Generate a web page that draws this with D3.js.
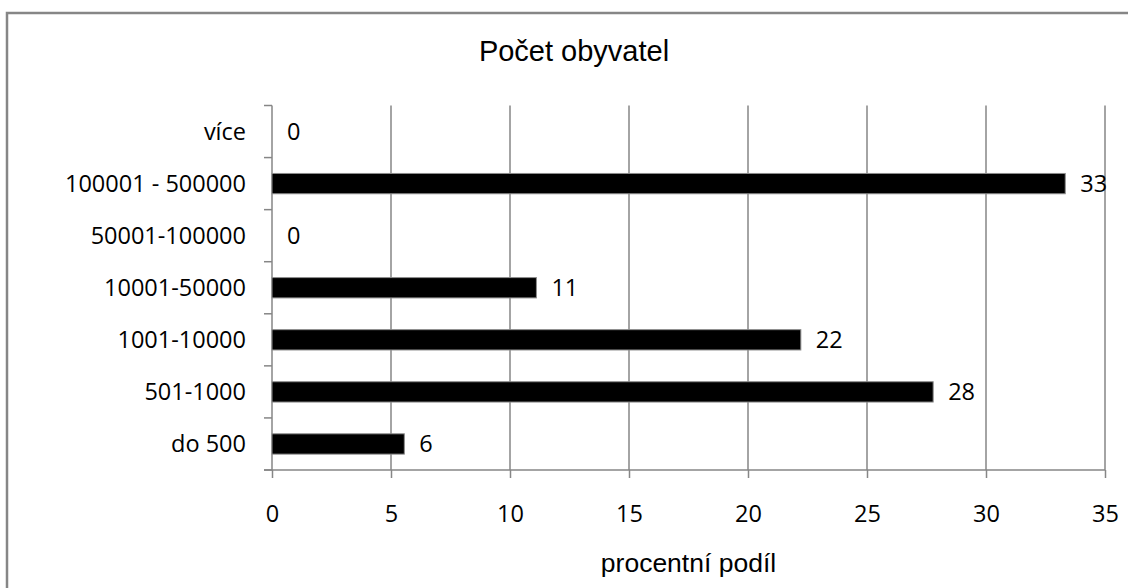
<!DOCTYPE html>
<html>
<head>
<meta charset="utf-8">
<script src="https://cdn.jsdelivr.net/npm/d3@7"></script>
<style>
  html, body { margin: 0; padding: 0; background: #fff; }
  svg { display: block; }
</style>
</head>
<body>
<svg id="chart" width="1128" height="588"></svg>
<script>
// Size groups by number of inhabitants (bottom to top) and their percentage share
const categories = ["do 500", "501-1000", "1001-10000", "10001-50000", "50001-100000", "100001 - 500000", "více"];
const shares = [5.56, 27.78, 22.22, 11.11, 0, 33.33, 0];
const xTicks = [0, 5, 10, 15, 20, 25, 30, 35];
const chartTitle = "Počet obyvatel";
const xAxisTitle = "procentní podíl";

const data = categories.map((c, i) => ({ category: c, value: shares[i] }));

const svg = d3.select("#chart");
const gray = "#868686";
const labelFont = "'Open Sans', sans-serif";
const titleFont = "'Liberation Sans', Arial, sans-serif";

// Plot area
const plot = { left: 272, right: 1105, top: 105.5, bottom: 470 };

const x = d3.scaleLinear().domain([0, 35]).range([plot.left, plot.right]);
const y = d3.scaleBand().domain(categories).range([plot.bottom, plot.top]);

// Outer frame of the chart object
svg.append("rect")
  .attr("x", 7).attr("y", 13)
  .attr("width", 1200).attr("height", 700)
  .attr("fill", "none")
  .attr("stroke", gray)
  .attr("stroke-width", 2.5);

// Title
svg.append("text")
  .attr("x", 574).attr("y", 61)
  .attr("text-anchor", "middle")
  .attr("font-family", titleFont)
  .attr("font-size", 29)
  .attr("fill", "#000")
  .text(chartTitle);

// Vertical gridlines
svg.append("g")
  .selectAll("line")
  .data(xTicks.filter(t => t > 0))
  .join("line")
  .attr("x1", d => x(d)).attr("x2", d => x(d))
  .attr("y1", plot.top).attr("y2", plot.bottom)
  .attr("stroke", gray)
  .attr("stroke-width", 1.5);

// X axis (ticks point down)
const xAxis = svg.append("g")
  .attr("transform", `translate(0,${plot.bottom})`)
  .call(d3.axisBottom(x).tickValues(xTicks).tickSize(8).tickSizeOuter(0).tickPadding(27));
xAxis.select(".domain").remove();
xAxis.selectAll(".tick line").attr("stroke", gray).attr("stroke-width", 1.5);
xAxis.selectAll(".tick text")
  .attr("font-family", labelFont)
  .attr("font-size", 23.5)
  .attr("fill", "#000");
svg.append("line")
  .attr("x1", plot.left - 8).attr("x2", plot.right)
  .attr("y1", plot.bottom).attr("y2", plot.bottom)
  .attr("stroke", gray).attr("stroke-width", 1.5);

// Y axis: category boundaries carry the ticks, labels sit at band centres
const yBoundaries = categories.map(c => y(c) + y.bandwidth()).concat([plot.top]);
svg.append("g")
  .selectAll("line")
  .data(yBoundaries)
  .join("line")
  .attr("x1", plot.left - 8).attr("x2", plot.left)
  .attr("y1", d => d).attr("y2", d => d)
  .attr("stroke", gray).attr("stroke-width", 1.5);
svg.append("line")
  .attr("x1", plot.left).attr("x2", plot.left)
  .attr("y1", plot.top).attr("y2", plot.bottom)
  .attr("stroke", gray).attr("stroke-width", 1.5);
svg.append("g")
  .selectAll("text")
  .data(categories)
  .join("text")
  .attr("x", plot.left - 26)
  .attr("y", d => y(d) + y.bandwidth() / 2)
  .attr("dy", "0.36em")
  .attr("text-anchor", "end")
  .attr("font-family", labelFont)
  .attr("font-size", 23.5)
  .attr("fill", "#000")
  .text(d => d);

// Bars
const barH = y.bandwidth() * 0.39;
svg.append("g")
  .selectAll("rect")
  .data(data.filter(d => d.value > 0))
  .join("rect")
  .attr("x", x(0))
  .attr("y", d => y(d.category) + (y.bandwidth() - barH) / 2)
  .attr("width", d => x(d.value) - x(0))
  .attr("height", barH)
  .attr("fill", "#000")
  .attr("stroke", "#8c8c8c")
  .attr("stroke-width", 1);

// Value labels
const fmt = d3.format(".0f");
svg.append("g")
  .selectAll("text")
  .data(data)
  .join("text")
  .attr("x", d => x(d.value) + 15)
  .attr("y", d => y(d.category) + y.bandwidth() / 2)
  .attr("dy", "0.36em")
  .attr("font-family", labelFont)
  .attr("font-size", 23.5)
  .attr("fill", "#000")
  .text(d => fmt(d.value));

// X axis title
svg.append("text")
  .attr("x", (plot.left + plot.right) / 2)
  .attr("y", 572)
  .attr("text-anchor", "middle")
  .attr("font-family", titleFont)
  .attr("font-size", 26.5)
  .attr("fill", "#000")
  .text(xAxisTitle);
</script>
</body>
</html>
